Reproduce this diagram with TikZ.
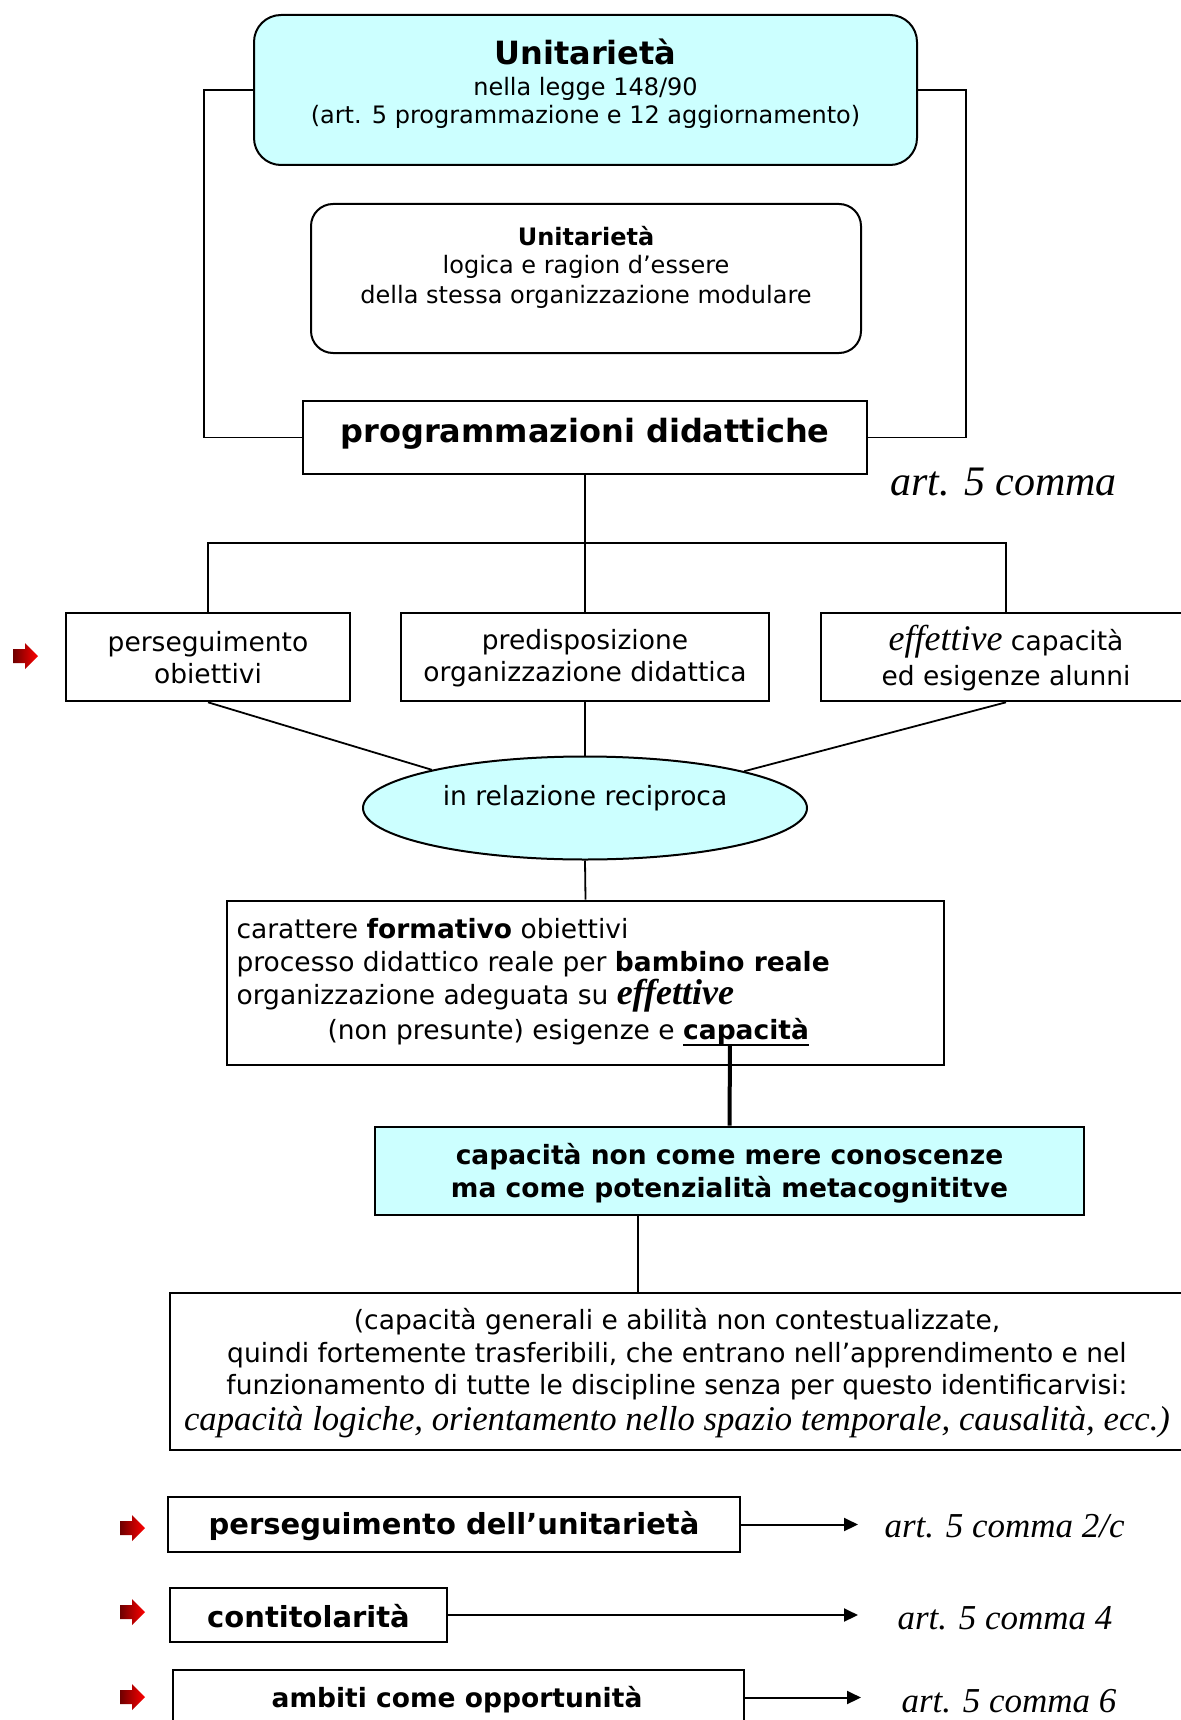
\documentclass[tikz,border=0pt]{standalone}
\usepackage{fontspec}
\setmainfont{DejaVu Sans}
\newfontfamily\lser{Liberation Serif}
\usetikzlibrary{shapes.geometric,arrows.meta}
\definecolor{lcyan}{HTML}{CCFFFF}
\definecolor{dkred}{HTML}{6E0000}
\newcommand\fs[2]{\fontsize{#1}{#2}\selectfont}
\newcommand\myul[1]{\setbox0\hbox{#1}\rlap{\rule[-7.3pt]{\wd0}{2.6pt}}\box0}
\tikzset{
  bx/.style={draw, line width=2.6pt, inner sep=0pt},
  rbx/.style={draw, line width=2pt, inner sep=0pt},
  ln/.style={line width=1.8pt},
  arr/.style={line width=2pt, -{Triangle[length=14pt,width=13pt]}},
  txt/.style={font=\fs{26.5}{33}},
  btxt/.style={font=\fs{26.5}{33}\bfseries},
  ser/.style={font=\lser\itshape\fs{35}{40}},
  redarr/.pic={\shade[left color=dkred, right color=red] (0,-7) -- (12,-7) -- (12,-13) -- (25,0) -- (12,13) -- (12,7) -- (0,7) -- cycle;}
}
\begin{document}
\begin{tikzpicture}[x=1pt,y=-1pt]
\useasboundingbox (0,0) rectangle (1180,1720);
\fill[white] (0,0) rectangle (1180,1720);

% top boxes
\node[rbx, fill=lcyan, minimum width=663pt, minimum height=150pt, rounded corners=27pt] (top) at (585.5,90) {};
\node[font=\fs{32}{38}\bfseries] (t1) at (585.5,52) {Unitarietà};
\node[font=\fs{24}{28.5}, align=center] (t2) at (585.5,103) {nella legge 148/90\\(art. 5 programmazione e 12 aggiornamento)};

\node[rbx, minimum width=550pt, minimum height=149pt, rounded corners=22pt] (mod) at (586,278.5) {};
\node[font=\fs{24}{28}\bfseries] (m1) at (586,236.5) {Unitarietà};
\node[font=\fs{24}{30}, align=center] (m2) at (586,282) {logica e ragion d’essere\\della stessa organizzazione modulare};

\node[bx, minimum width=564pt, minimum height=73pt] (prog) at (585,437.5) {};
\node[font=\fs{32}{38}\bfseries] (pt) at (585,434) {programmazioni didattiche};

\draw[ln] (top.west) -- ++(-49,0) |- (prog.west);
\draw[ln] (top.east) -- ++(48,0) |- (prog.east);

\node[font=\lser\itshape\fs{42}{48}, anchor=west] (art0) at (887,482) {art. 5 comma};

% three boxes
\node[bx, minimum width=284pt, minimum height=88pt] (b1) at (208,657) {};
\node[bx, minimum width=368pt, minimum height=88pt] (b2) at (585,657) {};
\node[bx, minimum width=370pt, minimum height=88pt] (b3) at (1006,657) {};
\node[font=\fs{26.5}{32}, align=center] (b1t) at (208,657.5) {perseguimento\\obiettivi};
\node[font=\fs{26.5}{32}, align=center] (b2t) at (585,658) {predisposizione\\organizzazione didattica};
\node[font=\fs{26.5}{35}, align=center] (b3t) at (1006,658.5) {{\lser\itshape\fs{36}{35}effettive} capacità\\ed esigenze alunni};

\coordinate (bar) at (0,543);
\draw[ln] (prog.south) -- (prog.south |- bar);
\draw[ln] (b1.north) -- (b1.north |- bar) -- (b3.north |- bar) -- (b3.north);
\draw[ln] (b2.north) -- (b2.north |- bar);

% ellipse
\node[ellipse, draw, line width=2pt, fill=lcyan, minimum width=444pt, minimum height=103pt, inner sep=0pt] (ell) at (585,808) {};
\node[txt] (et) at (585,798) {in relazione reciproca};
\draw[ln] (b1.south) -- (ell.166.6);
\draw[ln] (b2.south) -- (ell.north);
\draw[ln] (b3.south) -- (ell.13.4);

% formative box
\node[bx, minimum width=717pt, minimum height=164pt] (form) at (585.5,983) {};
\draw[ln] (ell.south) -- (form.north);
\node[txt, anchor=base west] (f1) at (233,938) {carattere \textbf{formativo} obiettivi};
\node[txt, anchor=base west] (f2) at (233,971) {processo didattico reale per \textbf{bambino reale}};
\node[txt, anchor=base west] (f3) at (233,1004) {organizzazione adeguata su {\lser\bfseries\itshape\fs{36}{33}effettive}};
\node[txt, anchor=base west] (f4) at (324,1039) {(non presunte) esigenze e \myul{\textbf{capacità}}};
\coordinate (capu) at (730,1044);

% capacita box
\node[bx, fill=lcyan, minimum width=709pt, minimum height=88pt] (cap) at (729.5,1171) {};
\node[btxt, align=center] (capt) at (729.5,1173) {capacità non come mere conoscenze\\ma come potenzialità metacognititve};
\draw[line width=4pt] (capu) -- (cap.north);

% big box
\node[bx, minimum width=1014pt, minimum height=157pt] (big) at (677,1371.5) {};
\coordinate (j) at (638,0);
\draw[ln] (cap.south -| j) -- (big.north -| j);
\node[font=\fs{26.5}{32.5}, align=center] (bt1) at (677,1354.5) {(capacità generali e abilità non contestualizzate,\\quindi fortemente trasferibili, che entrano nell’apprendimento e nel\\funzionamento di tutte le discipline senza per questo identificarvisi:};
\node[font=\lser\itshape\fs{34.7}{40}] (bt2) at (677,1422) {capacità logiche, orientamento nello spazio temporale, causalità, ecc.)};

% bottom rows
\node[bx, minimum width=572pt, minimum height=55pt] (r1) at (454,1524.5) {};
\node[font=\fs{29}{34}\bfseries] (r1t) at (454,1526.5) {perseguimento dell’unitarietà};
\coordinate (e1) at (858,1524.5);
\draw[arr] (r1.east) -- (e1);
\node[ser, anchor=west] (a1) at (881,1526) {art. 5 comma 2/c};

\node[bx, minimum width=277pt, minimum height=54pt] (r2) at (308.5,1615) {};
\node[font=\fs{29}{34}\bfseries] (r2t) at (308.5,1616) {contitolarità};
\coordinate (e2) at (858,1615);
\draw[arr] (r2.east) -- (e2);
\node[ser, anchor=west] (a2) at (894,1618) {art. 5 comma 4};

\node[bx, minimum width=571pt, minimum height=55pt] (r3) at (458.5,1697.5) {};
\node[btxt] (r3t) at (457,1700) {ambiti come opportunità};
\coordinate (e3) at (861,1697.5);
\draw[arr] (r3.east) -- (e3);
\node[ser, anchor=west] (a3) at (898,1701) {art. 5 comma 6};

% red markers
\pic at (13,656) {redarr};
\pic at (120,1528) {redarr};
\pic at (120,1612) {redarr};
\pic at (120,1697) {redarr};
\end{tikzpicture}
\end{document}
